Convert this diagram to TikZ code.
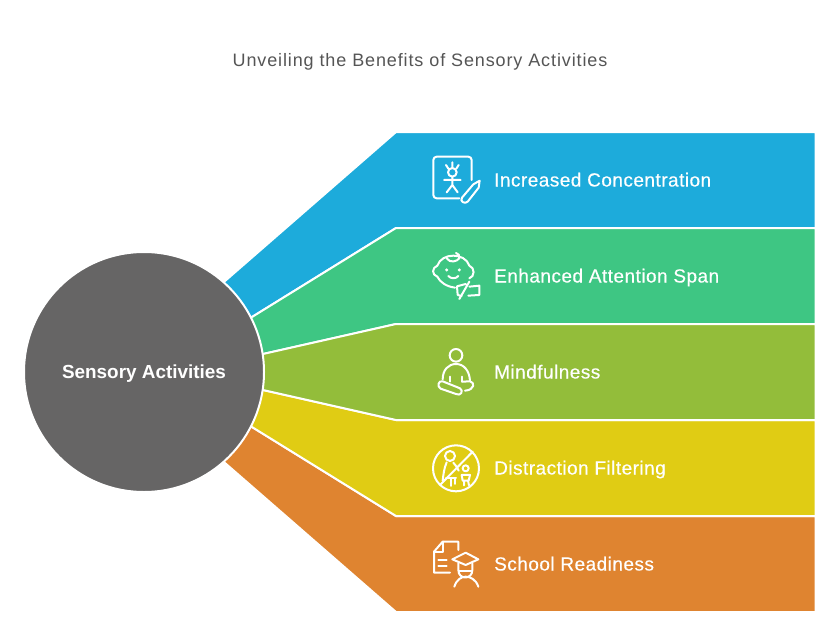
\documentclass[tikz,border=0pt]{standalone}
\usepackage{fontspec}
\setmainfont{Liberation Sans}
\newfontfamily\labelfont[LetterSpace=2.5,FakeBold=0.4]{Liberation Sans}
\newfontfamily\titlefont[LetterSpace=4.9]{Liberation Sans}
\usepackage{xcolor}
\definecolor{bandblue}{HTML}{1DABDB}
\definecolor{bandgreen}{HTML}{3EC683}
\definecolor{bandolive}{HTML}{93BD3A}
\definecolor{bandyellow}{HTML}{E0CC14}
\definecolor{bandorange}{HTML}{DF8430}
\definecolor{hubgray}{HTML}{666565}
\definecolor{titlegray}{HTML}{555555}
\tikzset{
  band/.style={draw=white, line width=2pt, line join=miter},
  bandlabel/.style={anchor=base west, inner sep=0pt, text=white, font=\labelfont\fontsize{19}{22}\selectfont},
  icon/.style={draw=white, line width=2pt, line cap=round, line join=round},
  iconzoom/.style={x=0.3333pt, y=-0.3333pt}
}
\begin{document}
\begin{tikzpicture}[x=1pt, y=-1pt]
    \useasboundingbox (0,0) rectangle (840,618);

    % Title
    \node[inner sep=0pt, anchor=base, text=titlegray, font=\titlefont\fontsize{18}{22}\selectfont] (title) at (420,66.5) {Unveiling the Benefits of Sensory Activities};

    % Bands
    \draw[band, fill=bandorange] (144,372) -- (225,463) -- (396,612) -- (815.5,612) -- (815.5,516) -- (396,516) -- (252,427) -- cycle;
    \draw[band, fill=bandyellow] (144,372) -- (252,427) -- (396,516) -- (815.5,516) -- (815.5,420) -- (396,420) -- (263,390) -- cycle;
    \draw[band, fill=bandblue] (144,372) -- (225,281) -- (396,132) -- (815.5,132) -- (815.5,228) -- (396,228) -- (252,317) -- cycle;
    \draw[band, fill=bandgreen] (144,372) -- (252,317) -- (396,228) -- (815.5,228) -- (815.5,324) -- (396,324) -- (263,354) -- cycle;
    \draw[band, fill=bandolive] (144,372) -- (263,354) -- (396,324) -- (815.5,324) -- (815.5,420) -- (396,420) -- (263,390) -- cycle;

    % Hub
    \node[circle, fill=hubgray, draw=white, line width=2pt, minimum size=240pt, inner sep=0pt] (hub) at (144,372) {};
    \node[inner sep=0pt, anchor=base, text=white, font=\fontsize{18.9}{22}\selectfont\bfseries] (hublabel) at (144,378.5) {Sensory Activities};

    % Labels
    \node[bandlabel] (concentration) at (494,186.5) {Increased Concentration};
    \node[bandlabel] (attention) at (494,282.5) {Enhanced Attention Span};
    \node[bandlabel] (mindfulness) at (494,378.5) {Mindfulness};
    \node[bandlabel] (filtering) at (494,474.5) {Distraction Filtering};
    \node[bandlabel] (readiness) at (494,570.5) {School Readiness};

    % Icon: child drawing
    \begin{scope}[shift={(420,145)}, iconzoom]
        \draw[icon] (155,105) -- (155,45) arc (0:-90:10) -- (50,35) arc (-90:-180:10) -- (40,150) arc (180:90:10) -- (118,160);
        \draw[icon] (97,82) circle (13);
        \draw[icon] (78,60) -- (85,71) (97,52) -- (97,68) (116,60) -- (109,71);
        \draw[icon] (97,95) -- (97,120) (72,105) -- (122,105) (80,142) -- (97,120) -- (113,142);
        \draw[icon] (126,158) -- (160,118) -- (179,107) -- (176,128) -- (143,170) .. controls (135,178) and (118,170) .. (126,158);
    \end{scope}

    % Icon: baby with muted speaker
    \begin{scope}[shift={(420,145)}, iconzoom]
        \draw[icon] (148,400) .. controls (165,395) and (165,368) .. (148,362) .. controls (135,322) and (65,322) .. (52,362) .. controls (35,368) and (35,390) .. (52,395) .. controls (60,412) and (80,425) .. (105,428);
        \draw[icon] (80,340) .. controls (90,355) and (110,350) .. (118,340) .. controls (120,332) and (115,325) .. (108,324);
        \fill[white] (80,375) circle (5) (118,375) circle (5);
        \draw[icon] (85,393) .. controls (92,402) and (108,402) .. (115,393);
        \draw[icon] (118,462) -- (148,410) (137,417) -- (111,424) -- (113,450) -- (125,453);
        \draw[icon] (148,425) -- (178,422) -- (178,450) -- (145,452);
    \end{scope}

    % Icon: meditation
    \begin{scope}[shift={(420,340)}, iconzoom]
        \draw[icon] (108,46) circle (19);
        \draw[icon] (68,118) .. controls (68,90) and (85,72) .. (108,72) .. controls (132,72) and (148,92) .. (150,122);
        \draw[icon] (90,110) -- (90,125) (126,110) -- (126,125);
        \draw[icon] (68,124) -- (120,145) .. controls (132,152) and (122,170) .. (108,162) -- (62,146) .. controls (50,140) and (55,120) .. (68,124);
        \draw[icon] (126,125) -- (150,124) .. controls (165,126) and (165,150) .. (135,152);
    \end{scope}

    % Icon: no distraction
    \begin{scope}[shift={(420,340)}, iconzoom]
        \draw[icon] (108,385) circle (69);
        \draw[icon] (158,335) -- (60,435);
        \draw[icon] (90,348) circle (15);
        \draw[icon] (80,367) .. controls (72,385) and (70,405) .. (68,422);
        \draw[icon] (100,368) .. controls (108,375) and (112,385) .. (116,392);
        \draw[icon] (78,415) -- (108,415) (94,418) -- (94,438) (106,418) -- (106,432);
        \draw[icon] (137,385) circle (9);
        \draw[icon] (125,405) -- (150,405) -- (146,422) -- (128,422) -- cycle;
        \draw[icon] (132,422) -- (132,436) (144,422) -- (147,436);
    \end{scope}

    % Icon: school readiness
    \begin{scope}[shift={(420,530)}, iconzoom]
        \draw[icon] (90,128) -- (42,128) -- (42,65) -- (68,35) -- (115,35) -- (115,60);
        \draw[icon] (68,35) -- (68,65) -- (42,65);
        \draw[icon] (55,90) -- (80,90) (55,108) -- (80,108);
        \draw[icon] (97,88) -- (137,68) -- (175,88) -- (137,105) -- cycle;
        \draw[icon] (115,100) -- (115,120) .. controls (115,150) and (157,150) .. (157,120) -- (157,100);
        \draw[icon] (118,122) -- (154,122);
        \draw[icon] (103,170) .. controls (110,148) and (125,140) .. (137,140) .. controls (150,140) and (168,148) .. (175,170);
    \end{scope}
\end{tikzpicture}
\end{document}
